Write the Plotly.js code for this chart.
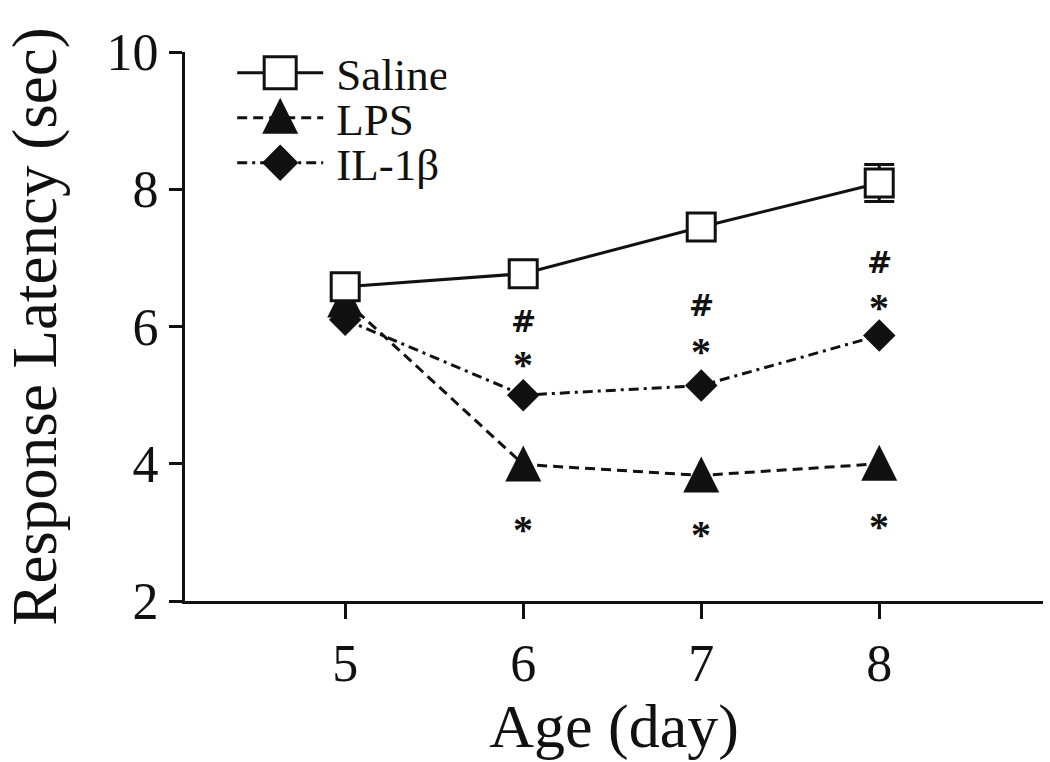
<!DOCTYPE html>
<html>
<head>
<meta charset="utf-8">
<script src="https://cdn.plot.ly/plotly-3.0.1.min.js"></script>
<style>html,body{margin:0;padding:0;background:#fff;}#chart{width:1050px;height:762px;}</style>
</head>
<body>
<div id="chart"></div>
<script>
// ---- data ----
const ageDays = [5, 6, 7, 8];
const salineLatency = [6.58, 6.77, 7.45, 8.09];
const salineError = [0.05, 0.05, 0.06, 0.27];
const lpsLatency = [6.38, 3.99, 3.83, 4.0];
const il1bLatency = [6.1, 5.0, 5.14, 5.87];
const seriesNames = ["Saline", "LPS", "IL-1\u03b2"];
const yTickVals = [2, 4, 6, 8, 10];
const xTickVals = [5, 6, 7, 8];
// significance marks: "#" and "*" above IL-1β, "*" below LPS
const hashX = [6, 7, 8];
const hashY = [6.07, 6.31, 6.93];
const starAboveX = [6, 7, 8];
const starAboveY = [5.45, 5.63, 6.28];
const starBelowX = [6, 7, 8];
const starBelowY = [3.04, 2.97, 3.08];

const FONT = "Liberation Serif, Times New Roman, serif";
const INK = "#111";

const salineTrace = {
  x: ageDays, y: salineLatency, name: seriesNames[0], legendrank: 1,
  type: "scatter", mode: "lines+markers",
  line: {color: INK, width: 3, dash: "solid"},
  marker: {symbol: "square", size: 28, color: "#fff", line: {color: INK, width: 3}},
  error_y: {type: "data", array: salineError, visible: true, color: INK, thickness: 3, width: 15}
};
const lpsTrace = {
  x: ageDays, y: lpsLatency, name: seriesNames[1], legendrank: 2,
  type: "scatter", mode: "lines+markers",
  line: {color: INK, width: 3, dash: "10px,6px"},
  marker: {symbol: "triangle-up", size: 36, color: INK, line: {width: 0}}
};
const il1bTrace = {
  x: ageDays, y: il1bLatency, name: seriesNames[2], legendrank: 3,
  type: "scatter", mode: "lines+markers",
  line: {color: INK, width: 3, dash: "10px,5px,3px,5px"},
  marker: {symbol: "diamond", size: 25, color: INK, line: {width: 0}}
};
// drawing order: LPS, IL-1β, then Saline on top
const traces = [lpsTrace, il1bTrace, salineTrace];

const markAnn = (x, y, s, family, size) => ({
  x: x, y: y, text: "<b>" + s + "</b>", showarrow: false,
  xref: "x", yref: "y", xanchor: "center", yanchor: "middle",
  font: {family: family, size: size, color: INK}
});
const annotations = [
  ...hashX.map((x, i) => markAnn(x, hashY[i], "#", "DejaVu Sans", 30)),
  ...starAboveX.map((x, i) => markAnn(x, starAboveY[i], "*", FONT, 40)),
  ...starBelowX.map((x, i) => markAnn(x, starBelowY[i], "*", FONT, 40))
];

const layout = {
  width: 1050, height: 762,
  margin: {l: 185, r: 7, t: 52, b: 161},
  paper_bgcolor: "#fff", plot_bgcolor: "#fff",
  font: {family: FONT, color: INK},
  showlegend: true,
  legend: {
    x: 0.055, y: 1.02, xanchor: "left", yanchor: "top",
    font: {family: FONT, size: 45, color: INK},
    itemwidth: 86, tracegroupgap: 0, bgcolor: "rgba(0,0,0,0)",
    traceorder: "normal", itemclick: false
  },
  xaxis: {
    range: [4.1, 8.92], tickvals: xTickVals, ticks: "outside", ticklen: 15, tickwidth: 3,
    tickcolor: INK, showline: true, linewidth: 3, linecolor: INK,
    showgrid: false, zeroline: false,
    tickfont: {family: FONT, size: 52, color: INK},
    title: {text: "Age (day)", font: {family: FONT, size: 62, color: INK}, standoff: 8}
  },
  yaxis: {
    range: [2, 10], tickvals: yTickVals, ticks: "outside", ticklen: 13, tickwidth: 3,
    tickcolor: INK, showline: true, linewidth: 3, linecolor: INK,
    showgrid: false, zeroline: false,
    tickfont: {family: FONT, size: 52, color: INK},
    title: {text: "Response Latency (sec)", font: {family: FONT, size: 63, color: INK}, standoff: 32}
  },
  annotations: annotations
};

const TRI_PATH = "M-18,17H18L0,-19Z";
const LEG_TRI_PATH = "M-18,16H18L0,-20Z";

Plotly.newPlot("chart", traces, layout, {staticPlot: true}).then(() => {
  // taller, more equilateral triangles for LPS in the plot
  const traceGroups = document.querySelectorAll(".scatterlayer .trace");
  traceGroups.forEach((g, i) => {
    if (traces[i] === lpsTrace) {
      g.querySelectorAll("path.point").forEach(p => p.setAttribute("d", TRI_PATH));
    }
  });
  // legend: bigger symbols, tighter rows, text further from symbol
  const items = document.querySelectorAll(".legend g.traces");
  const rowGap = 45;
  let y0 = null;
  items.forEach((it, i) => {
    const m = /translate\(([-\d.]+),\s*([-\d.]+)\)/.exec(it.getAttribute("transform") || "");
    if (m) {
      const tx = parseFloat(m[1]), ty = parseFloat(m[2]);
      if (y0 === null) y0 = ty - 4;
      it.setAttribute("transform", "translate(" + tx + "," + (y0 + i * rowGap) + ")");
    }
    const txt = it.querySelector("text.legendtext");
    if (txt) txt.setAttribute("x", parseFloat(txt.getAttribute("x")) + 8);
    const name = txt ? txt.textContent : "";
    it.querySelectorAll("path.scatterpts").forEach(p => {
      const t = p.getAttribute("transform") || "";
      if (name === seriesNames[1]) {
        p.setAttribute("d", LEG_TRI_PATH);
      } else if (name === seriesNames[0]) {
        p.setAttribute("transform", t + " scale(2.0)");
        p.style.strokeWidth = (3 / 2.0) + "px";
      } else {
        p.setAttribute("transform", t + " scale(1.75)");
      }
    });
  });
});
</script>
</body>
</html>
